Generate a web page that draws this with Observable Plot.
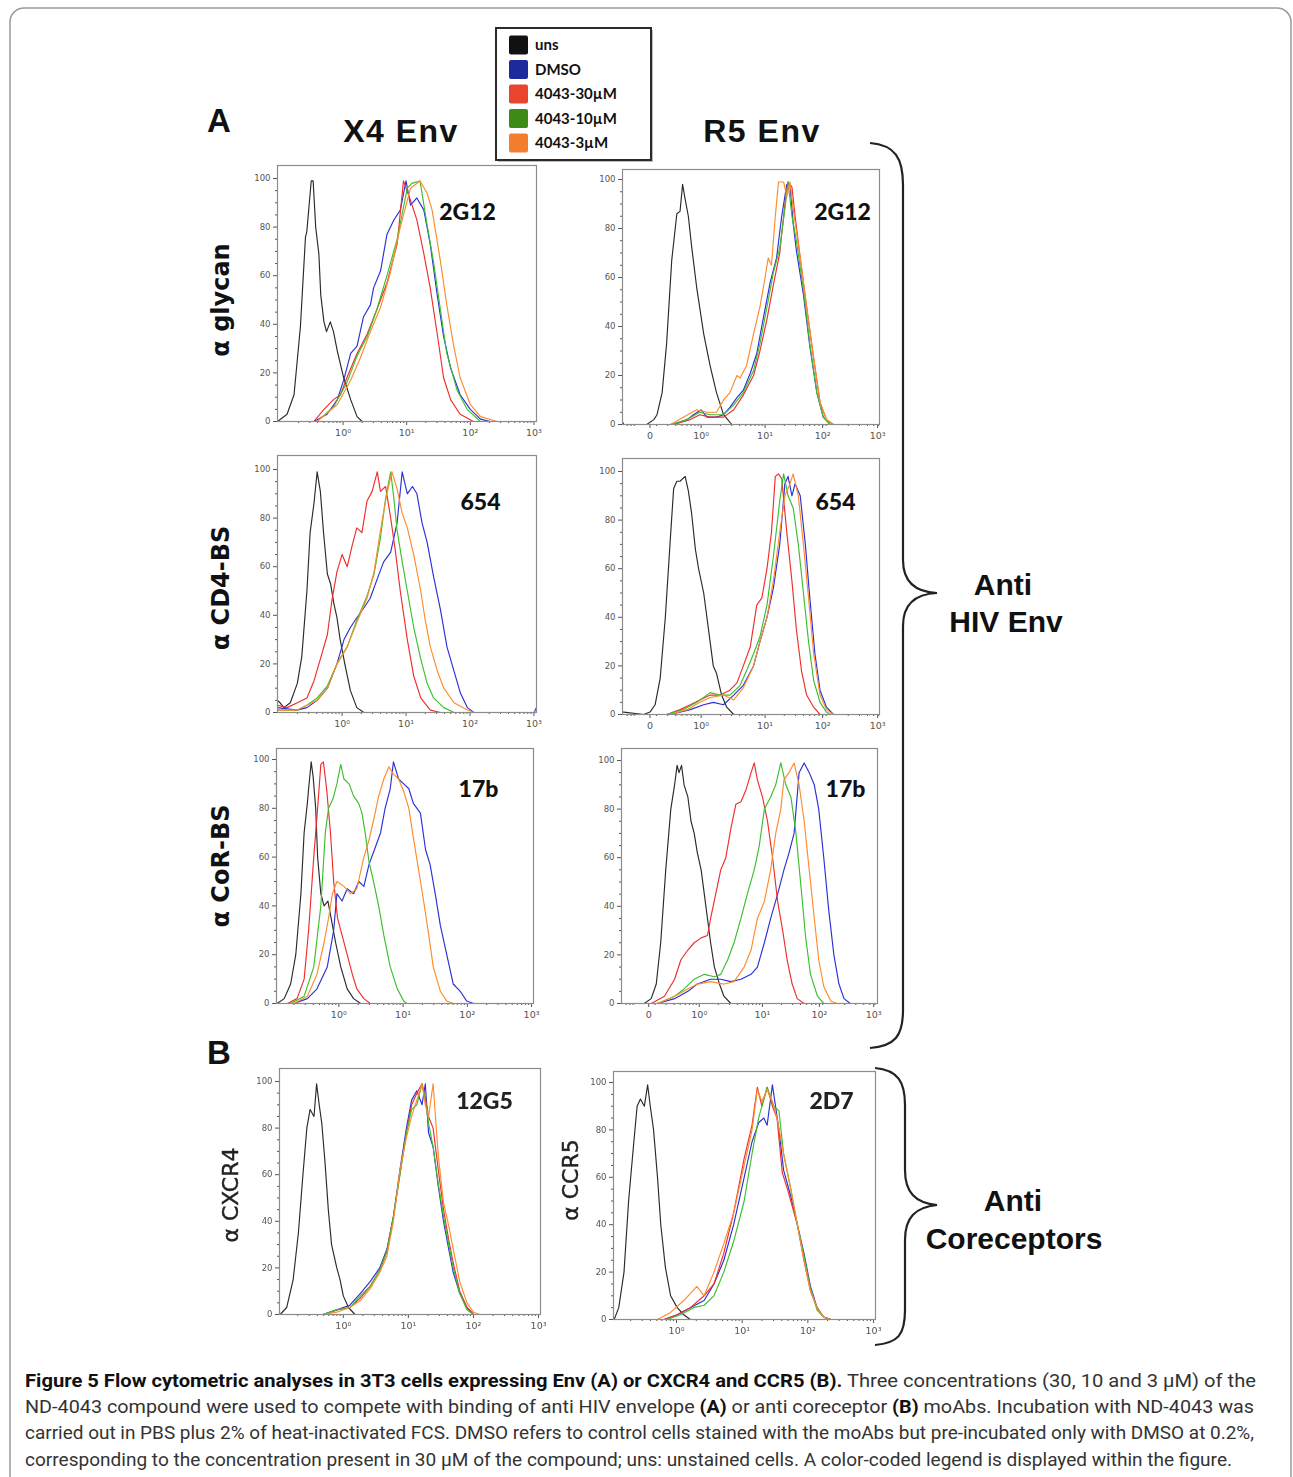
<!DOCTYPE html>
<html>
<head>
<meta charset="utf-8">
<script src="https://cdn.jsdelivr.net/npm/d3@7"></script>
<script src="https://cdn.jsdelivr.net/npm/@observablehq/plot@0.6"></script>
<style>
  html, body { margin: 0; padding: 0; background: #fff; }
  #page { position: relative; width: 1293px; height: 1477px; overflow: hidden; background: #fff; }
  #page > svg, #page > div { position: absolute; }
  .panel svg { overflow: visible; }
</style>
</head>
<body>
<div id="page"></div>
<script>
// ---------------- series / legend ----------------
const seriesNames = ["uns", "DMSO", "4043-30µM", "4043-10µM", "4043-3µM"];
const lineColors = ["#2a2a2a", "#2b30d8", "#ef2d2d", "#3cbf2e", "#ff8b2c"];
const legendColors = ["#111111", "#1c2a9c", "#e8442e", "#3e8a16", "#f27e2e"];

// ---------------- axis ticks ----------------
const yTicks = [0, 20, 40, 60, 80, 100];
const x4TickVals = [0, 1, 2, 3];
const x4TickLabels = ["10⁰", "10¹", "10²", "10³"];
const r5TickVals = [-0.8, 0, 1, 1.9, 2.76];
const r5TickLabels = ["0", "10⁰", "10¹", "10²", "10³"];

// ---------------- A: X4 Env, α glycan (2G12) ----------------
const a1_uns = [[-1.03,0],[-0.88,3],[-0.77,11],[-0.67,39],[-0.59,76],[-0.57,78],[-0.5,99],[-0.47,99],[-0.43,80],[-0.38,69],[-0.35,52],[-0.3,41],[-0.26,37],[-0.2,41],[-0.15,37],[-0.09,29],[0.01,18],[0.12,9],[0.22,2],[0.3,0],[3.04,0]];
const a1_dmso = [[-1.03,0],[-0.46,0],[-0.25,3],[-0.09,9],[0.01,17],[0.12,28],[0.22,31],[0.32,43],[0.43,48],[0.48,55],[0.59,62],[0.69,77],[0.8,83],[0.9,87],[0.99,99],[1.06,89],[1.16,92],[1.27,87],[1.37,73],[1.48,52],[1.58,35],[1.69,22],[1.84,11],[2.0,5],[2.16,1],[2.31,0],[3.04,0]];
const a1_30 = [[-1.03,0],[-0.46,0],[-0.3,5],[-0.15,9],[-0.04,11],[0.06,18],[0.22,28],[0.38,36],[0.53,46],[0.69,57],[0.85,73],[0.95,99],[1.06,91],[1.16,83],[1.27,69],[1.37,55],[1.48,36],[1.58,18],[1.69,9],[1.84,3],[2.05,0],[3.04,0]];
const a1_10 = [[-1.03,0],[-0.41,0],[-0.15,6],[0.06,16],[0.22,27],[0.38,35],[0.53,46],[0.69,60],[0.85,75],[1.01,96],[1.08,98],[1.21,99],[1.32,81],[1.42,66],[1.53,46],[1.63,28],[1.79,13],[1.95,5],[2.16,0],[3.04,0]];
const a1_3 = [[-1.03,0],[-0.41,0],[-0.09,7],[0.12,17],[0.27,26],[0.43,37],[0.59,47],[0.74,61],[0.9,80],[1.06,96],[1.21,99],[1.32,94],[1.4,87],[1.53,66],[1.63,48],[1.74,31],[1.84,18],[2.0,7],[2.16,2],[2.42,0],[3.04,0]];

// ---------------- A: R5 Env, α glycan (2G12) ----------------
const a2_uns = [[-1.23,1],[-1.21,0],[-0.85,0],[-0.74,2],[-0.69,4],[-0.61,13],[-0.54,33],[-0.46,67],[-0.38,86],[-0.33,87],[-0.29,98],[-0.25,92],[-0.2,85],[-0.15,73],[-0.07,56],[0.04,37],[0.14,24],[0.24,13],[0.35,4],[0.48,0],[2.79,0]];
const a2_dmso = [[-1.23,0],[-0.43,0],[-0.22,2],[-0.12,4],[0,6],[0.09,3],[0.24,3],[0.35,4],[0.45,7],[0.56,11],[0.66,14],[0.77,21],[0.87,29],[0.97,43],[1.08,58],[1.18,68],[1.26,85],[1.34,98],[1.39,98],[1.44,82],[1.49,71],[1.6,53],[1.7,32],[1.81,13],[1.91,3],[2.02,0],[2.79,0]];
const a2_30 = [[-1.23,0],[-0.43,0],[-0.17,2],[-0.02,4],[0.14,3],[0.35,3],[0.51,6],[0.66,12],[0.82,20],[0.92,30],[1.03,43],[1.13,57],[1.23,70],[1.31,90],[1.36,99],[1.42,97],[1.47,85],[1.55,68],[1.65,48],[1.76,27],[1.86,9],[1.96,2],[2.07,0],[2.79,0]];
const a2_10 = [[-1.23,0],[-0.48,0],[-0.22,2],[-0.02,5],[0.14,4],[0.35,4],[0.51,8],[0.66,13],[0.82,22],[0.92,33],[1.03,48],[1.13,62],[1.23,72],[1.31,88],[1.36,99],[1.42,85],[1.49,75],[1.6,55],[1.7,33],[1.81,13],[1.91,3],[2.02,0],[2.79,0]];
const a2_3 = [[-1.23,0],[-0.48,0],[-0.28,3],[-0.07,6],[0.09,5],[0.24,5],[0.35,10],[0.45,13],[0.56,20],[0.61,19],[0.71,24],[0.82,37],[0.92,48],[1.0,60],[1.05,68],[1.1,65],[1.16,85],[1.21,99],[1.29,99],[1.34,93],[1.39,99],[1.44,88],[1.55,68],[1.65,48],[1.76,27],[1.86,9],[1.96,2],[2.07,0],[2.79,0]];

// ---------------- A: X4 Env, α CD4-BS (654) ----------------
const a3_uns = [[-1.01,5],[-0.97,4],[-0.91,2],[-0.81,4],[-0.7,12],[-0.63,23],[-0.55,50],[-0.5,74],[-0.44,86],[-0.39,99],[-0.34,91],[-0.29,74],[-0.23,57],[-0.18,53],[-0.13,45],[-0.08,39],[-0.03,30],[0.05,19],[0.13,9],[0.23,2],[0.34,0],[3.04,0]];
const a3_dmso = [[-1.01,2],[-0.7,1],[-0.55,2],[-0.39,5],[-0.23,10],[-0.08,20],[0.03,30],[0.13,35],[0.23,39],[0.34,43],[0.44,47],[0.55,55],[0.65,62],[0.76,66],[0.86,78],[0.94,99],[1.02,90],[1.1,93],[1.17,90],[1.25,78],[1.33,70],[1.43,56],[1.54,42],[1.64,27],[1.75,17],[1.85,8],[1.96,2],[2.06,0],[3.0,0],[3.04,2]];
const a3_30 = [[-1.01,3],[-0.86,2],[-0.7,4],[-0.55,6],[-0.44,13],[-0.34,22],[-0.23,32],[-0.16,46],[-0.08,58],[0,65],[0.08,60],[0.16,69],[0.23,76],[0.31,74],[0.39,87],[0.47,91],[0.55,99],[0.6,91],[0.68,93],[0.76,80],[0.83,67],[0.91,50],[1.02,30],[1.12,15],[1.23,6],[1.38,1],[1.54,0],[3.04,0]];
const a3_10 = [[-1.01,1],[-0.7,1],[-0.55,3],[-0.39,6],[-0.23,11],[-0.08,20],[0.08,27],[0.23,38],[0.39,48],[0.5,57],[0.6,72],[0.68,88],[0.76,99],[0.81,88],[0.86,75],[0.94,62],[1.02,50],[1.12,35],[1.23,22],[1.33,12],[1.43,6],[1.59,2],[1.75,0],[3.04,0]];
const a3_3 = [[-1.01,1],[-0.7,1],[-0.55,3],[-0.39,5],[-0.23,10],[-0.08,20],[0.08,27],[0.23,37],[0.39,47],[0.5,58],[0.6,75],[0.7,90],[0.78,99],[0.86,92],[0.94,82],[1.02,76],[1.12,65],[1.23,50],[1.3,38],[1.38,27],[1.49,17],[1.59,10],[1.75,4],[1.96,1],[2.06,0],[3.0,0],[3.04,1]];

// ---------------- A: R5 Env, α CD4-BS (654) ----------------
const a4_uns = [[-1.23,1],[-1.21,1],[-0.9,0],[-0.8,1],[-0.72,4],[-0.64,15],[-0.56,40],[-0.48,73],[-0.43,93],[-0.38,96],[-0.33,96],[-0.25,98],[-0.2,92],[-0.15,83],[-0.09,68],[-0.04,60],[0.04,50],[0.09,40],[0.14,30],[0.19,20],[0.24,17],[0.32,8],[0.4,3],[0.51,0],[2.79,0]];
const a4_dmso = [[-1.23,0],[-0.48,0],[-0.17,2],[0.04,4],[0.19,5],[0.35,4],[0.51,8],[0.66,12],[0.82,20],[0.92,30],[1.03,40],[1.13,52],[1.23,70],[1.31,95],[1.36,98],[1.42,90],[1.47,95],[1.55,90],[1.63,70],[1.7,48],[1.78,25],[1.86,10],[1.96,3],[2.07,0],[2.79,0]];
const a4_30 = [[-1.23,0],[-0.54,0],[-0.33,2],[-0.17,4],[-0.02,6],[0.14,8],[0.3,8],[0.45,10],[0.56,13],[0.66,20],[0.77,28],[0.87,45],[0.95,48],[1.03,60],[1.1,75],[1.16,98],[1.21,99],[1.26,97],[1.34,75],[1.42,55],[1.49,35],[1.57,18],[1.65,8],[1.76,3],[1.86,0],[2.79,0]];
const a4_10 = [[-1.23,0],[-0.54,0],[-0.28,2],[-0.07,5],[0.14,9],[0.3,8],[0.45,8],[0.61,12],[0.71,18],[0.82,25],[0.92,32],[1.03,45],[1.13,65],[1.23,88],[1.29,99],[1.36,90],[1.44,85],[1.52,70],[1.6,50],[1.68,30],[1.76,14],[1.86,5],[1.96,1],[2.02,0],[2.79,0]];
const a4_3 = [[-1.23,0],[-0.48,0],[-0.22,2],[-0.02,5],[0.14,7],[0.35,8],[0.51,6],[0.66,11],[0.82,20],[0.92,30],[1.03,40],[1.13,55],[1.23,75],[1.31,90],[1.39,95],[1.44,99],[1.52,90],[1.6,70],[1.68,48],[1.76,25],[1.86,8],[1.96,2],[2.07,0],[2.79,0]];

// ---------------- A: X4 Env, α CoR-BS (17b) ----------------
const a5_uns = [[-0.97,0],[-0.96,0],[-0.85,2],[-0.75,8],[-0.67,20],[-0.59,45],[-0.54,70],[-0.49,82],[-0.47,88],[-0.43,99],[-0.4,93],[-0.36,80],[-0.33,60],[-0.28,45],[-0.23,40],[-0.17,42],[-0.12,35],[-0.05,25],[0.03,15],[0.13,6],[0.23,2],[0.34,0],[3.03,0]];
const a5_dmso = [[-0.97,0],[-0.7,0],[-0.49,2],[-0.34,6],[-0.18,15],[-0.08,30],[-0.03,45],[0.05,42],[0.13,47],[0.23,45],[0.31,50],[0.39,48],[0.47,57],[0.54,62],[0.65,70],[0.72,80],[0.8,88],[0.85,99],[0.93,92],[1.01,90],[1.09,88],[1.16,82],[1.27,78],[1.35,63],[1.42,57],[1.5,45],[1.58,32],[1.68,20],[1.78,8],[1.89,5],[1.99,1],[2.1,0],[3.03,0]];
const a5_30 = [[-0.97,0],[-0.8,0],[-0.65,2],[-0.54,10],[-0.47,30],[-0.39,60],[-0.33,80],[-0.28,98],[-0.24,99],[-0.19,88],[-0.13,70],[-0.08,50],[-0.02,35],[0.05,28],[0.13,20],[0.21,12],[0.28,6],[0.39,2],[0.49,0],[3.03,0]];
const a5_10 = [[-0.97,0],[-0.75,0],[-0.54,3],[-0.39,15],[-0.28,40],[-0.21,70],[-0.16,80],[-0.09,84],[-0.03,90],[0.03,98],[0.08,92],[0.16,90],[0.23,85],[0.31,82],[0.36,78],[0.41,70],[0.47,58],[0.54,50],[0.62,40],[0.7,28],[0.8,15],[0.91,6],[1.01,1],[1.06,0],[3.03,0]];
const a5_3 = [[-0.97,0],[-0.7,0],[-0.49,3],[-0.34,12],[-0.23,25],[-0.16,35],[-0.1,45],[-0.03,50],[0.08,48],[0.18,45],[0.28,47],[0.39,60],[0.47,67],[0.54,75],[0.62,85],[0.7,92],[0.78,97],[0.85,94],[0.93,92],[1.01,87],[1.09,80],[1.16,68],[1.24,55],[1.32,42],[1.4,28],[1.47,15],[1.58,5],[1.68,1],[1.78,0],[3.03,0]];

// ---------------- A: R5 Env, α CoR-BS (17b) ----------------
const a6_uns = [[-1.23,0],[-0.87,0],[-0.76,2],[-0.68,8],[-0.61,25],[-0.53,55],[-0.45,80],[-0.39,90],[-0.35,98],[-0.32,95],[-0.28,98],[-0.24,90],[-0.18,85],[-0.13,75],[-0.08,70],[-0.03,62],[0.03,55],[0.08,45],[0.13,35],[0.18,25],[0.24,15],[0.32,8],[0.39,3],[0.5,0],[2.82,0]];
const a6_dmso = [[-1.23,0],[-0.66,0],[-0.39,2],[-0.18,5],[-0.03,8],[0.18,10],[0.34,10],[0.5,9],[0.66,10],[0.82,12],[0.92,15],[1.03,25],[1.13,35],[1.24,45],[1.34,55],[1.42,62],[1.5,70],[1.58,95],[1.66,99],[1.74,95],[1.82,90],[1.89,80],[1.97,60],[2.05,38],[2.13,20],[2.21,8],[2.29,2],[2.39,0],[2.82,0]];
const a6_30 = [[-1.23,0],[-0.76,0],[-0.55,3],[-0.39,10],[-0.29,18],[-0.18,22],[-0.08,25],[0.03,27],[0.13,28],[0.18,35],[0.26,45],[0.34,55],[0.42,60],[0.5,72],[0.58,82],[0.66,83],[0.74,88],[0.82,95],[0.87,99],[0.92,92],[1.0,85],[1.08,75],[1.16,60],[1.24,42],[1.32,30],[1.39,18],[1.47,8],[1.55,2],[1.66,0],[2.82,0]];
const a6_10 = [[-1.23,0],[-0.66,0],[-0.39,3],[-0.24,6],[-0.08,10],[0.08,12],[0.24,11],[0.34,12],[0.45,18],[0.55,25],[0.66,35],[0.76,45],[0.87,55],[0.95,65],[1.03,80],[1.13,85],[1.21,90],[1.29,99],[1.37,90],[1.45,85],[1.53,70],[1.61,48],[1.68,28],[1.76,12],[1.87,3],[1.97,0],[2.82,0]];
const a6_3 = [[-1.23,0],[-0.66,0],[-0.39,3],[-0.18,6],[-0.03,8],[0.18,9],[0.39,8],[0.55,9],[0.71,15],[0.82,22],[0.92,35],[1.03,42],[1.13,55],[1.21,70],[1.29,80],[1.34,92],[1.42,95],[1.5,99],[1.58,90],[1.66,75],[1.74,55],[1.82,35],[1.89,18],[1.97,7],[2.08,1],[2.18,0],[2.82,0]];

// ---------------- B: α CXCR4 (12G5) ----------------
const b1_uns = [[-0.98,0],[-0.97,0],[-0.87,3],[-0.77,15],[-0.69,35],[-0.62,60],[-0.56,80],[-0.51,88],[-0.45,85],[-0.41,99],[-0.37,90],[-0.33,82],[-0.28,65],[-0.23,45],[-0.18,30],[-0.1,20],[-0.05,15],[0,8],[0.08,3],[0.18,0],[3.03,0]];
const b1_dmso = [[-0.98,0],[-0.31,0],[-0.1,2],[0.1,4],[0.26,9],[0.41,14],[0.56,20],[0.67,28],[0.77,42],[0.87,62],[0.97,80],[1.05,92],[1.13,96],[1.21,90],[1.26,99],[1.31,78],[1.38,72],[1.46,55],[1.54,40],[1.62,28],[1.69,18],[1.79,9],[1.9,3],[2.0,0],[3.03,0]];
const b1_30 = [[-0.98,0],[-0.31,0],[-0.1,2],[0.1,3],[0.26,7],[0.41,12],[0.56,19],[0.67,27],[0.77,42],[0.87,60],[0.97,78],[1.05,90],[1.13,95],[1.21,99],[1.26,93],[1.31,85],[1.38,80],[1.46,62],[1.54,45],[1.62,32],[1.69,22],[1.79,10],[1.9,3],[2.0,0],[3.03,0]];
const b1_10 = [[-0.98,0],[-0.31,0],[-0.1,2],[0.1,3],[0.26,8],[0.41,12],[0.56,19],[0.67,27],[0.77,42],[0.87,60],[0.97,78],[1.05,88],[1.13,90],[1.21,99],[1.26,92],[1.31,82],[1.38,72],[1.46,56],[1.54,42],[1.62,30],[1.69,20],[1.79,9],[1.9,2],[2.0,0],[3.03,0]];
const b1_3 = [[-0.98,0],[-0.31,0],[-0.1,1],[0.1,3],[0.26,6],[0.41,11],[0.56,18],[0.67,25],[0.77,40],[0.87,62],[0.97,76],[1.05,85],[1.13,92],[1.21,99],[1.26,90],[1.31,85],[1.38,99],[1.46,68],[1.54,48],[1.62,38],[1.69,28],[1.79,14],[1.9,5],[2.0,1],[2.1,0],[3.03,0]];

// ---------------- B: α CCR5 (2D7) ----------------
const b2_uns = [[-0.96,0],[-0.95,0],[-0.88,5],[-0.8,20],[-0.73,50],[-0.65,75],[-0.6,90],[-0.55,93],[-0.49,90],[-0.44,99],[-0.4,90],[-0.35,80],[-0.29,60],[-0.24,40],[-0.17,22],[-0.09,10],[0.01,5],[0.11,2],[0.21,0],[3.03,0]];
const b2_dmso = [[-0.96,0],[-0.19,0],[0.01,2],[0.21,5],[0.42,8],[0.57,15],[0.72,25],[0.87,40],[1.03,60],[1.15,75],[1.25,83],[1.33,85],[1.38,82],[1.46,99],[1.56,80],[1.63,63],[1.74,52],[1.84,40],[1.94,28],[2.04,14],[2.14,5],[2.24,1],[2.35,0],[3.03,0]];
const b2_30 = [[-0.96,0],[-0.19,0],[0.01,2],[0.21,5],[0.42,10],[0.57,15],[0.72,28],[0.87,45],[1.03,68],[1.15,82],[1.23,98],[1.3,90],[1.38,98],[1.46,90],[1.53,85],[1.61,62],[1.69,55],[1.76,48],[1.84,40],[1.94,25],[2.04,12],[2.14,5],[2.24,1],[2.35,0],[3.03,0]];
const b2_10 = [[-0.96,0],[-0.14,0],[0.06,2],[0.26,5],[0.42,6],[0.57,10],[0.72,20],[0.87,33],[1.03,50],[1.15,70],[1.25,85],[1.38,98],[1.48,90],[1.56,88],[1.63,70],[1.74,55],[1.84,40],[1.94,27],[2.04,13],[2.14,4],[2.24,1],[2.35,0],[3.03,0]];
const b2_3 = [[-0.96,0],[-0.29,0],[-0.09,3],[0.11,8],[0.31,14],[0.42,10],[0.57,20],[0.72,32],[0.87,45],[1.03,65],[1.15,80],[1.23,97],[1.3,92],[1.38,97],[1.46,92],[1.53,85],[1.63,70],[1.74,55],[1.84,40],[1.94,25],[2.04,12],[2.14,5],[2.24,1],[2.35,0],[3.03,0]];

// ---------------- text ----------------
const panelLabels = ["2G12", "2G12", "654", "654", "17b", "17b", "12G5", "2D7"];
const rowLabels = ["α glycan", "α CD4-BS", "α CoR-BS", "α CXCR4", "α CCR5"];
const captionLines = [
  [["Figure 5 Flow cytometric analyses in 3T3 cells expressing Env (A) or CXCR4 and CCR5 (B).", true], [" Three concentrations (30, 10 and 3 μM) of the", false]],
  [["ND-4043 compound were used to compete with binding of anti HIV envelope ", false], ["(A)", true], [" or anti coreceptor ", false], ["(B)", true], [" moAbs. Incubation with ND-4043 was", false]],
  [["carried out in PBS plus 2% of heat-inactivated FCS. DMSO refers to control cells stained with the moAbs but pre-incubated only with DMSO at 0.2%,", false]],
  [["corresponding to the concentration present in 30 μM of the compound; uns: unstained cells. A color-coded legend is displayed within the figure.", false]]
];

// ---------------- layout (page pixel geometry of each frame) ----------------
const layout = [
  {L:277, R:536, T:165, B:421, y100:178, xd:[-1.03,3.04], ax:"x4", s:[a1_uns,a1_dmso,a1_30,a1_10,a1_3], lab:[467,212], blur:false},
  {L:622, R:879, T:169, B:424, y100:179, xd:[-1.23,2.79], ax:"r5", s:[a2_uns,a2_dmso,a2_30,a2_10,a2_3], lab:[842,212], blur:false},
  {L:277, R:536, T:455, B:712, y100:469, xd:[-1.01,3.04], ax:"x4", s:[a3_uns,a3_dmso,a3_30,a3_10,a3_3], lab:[480,502], blur:false},
  {L:622, R:879, T:458, B:714, y100:471, xd:[-1.23,2.79], ax:"r5", s:[a4_uns,a4_dmso,a4_30,a4_10,a4_3], lab:[835,502], blur:false},
  {L:276, R:533, T:748, B:1003, y100:759, xd:[-0.97,3.03], ax:"x4", s:[a5_uns,a5_dmso,a5_30,a5_10,a5_3], lab:[478,789], blur:false},
  {L:621, R:877, T:748, B:1003, y100:760, xd:[-1.23,2.82], ax:"r5", s:[a6_uns,a6_dmso,a6_30,a6_10,a6_3], lab:[845,789], blur:false},
  {L:279, R:540, T:1068, B:1314, y100:1081, xd:[-0.98,3.03], ax:"x4", s:[b1_uns,b1_dmso,b1_30,b1_10,b1_3], lab:[484,1101], blur:true},
  {L:613, R:875, T:1071, B:1319, y100:1082, xd:[-0.96,3.03], ax:"x4", s:[b2_uns,b2_dmso,b2_30,b2_10,b2_3], lab:[831,1101], blur:true}
];

const page = document.getElementById("page");

// ---------------- overlay (labels, braces, legend, caption) ----------------
const ov = d3.select(page).append("svg")
  .attr("width", 1293).attr("height", 1477)
  .style("left", "0px").style("top", "0px");

ov.append("rect").attr("x", 10).attr("y", 8).attr("width", 1281).attr("height", 1520)
  .attr("rx", 14).attr("fill", "none").attr("stroke", "#9a9a9a").attr("stroke-width", 1.5);

const bigFont = "'Liberation Sans', Arial, Helvetica, sans-serif";
function txt(x, y, s, opt = {}) {
  return ov.append("text").attr("x", x).attr("y", y).text(s)
    .attr("font-family", opt.family || bigFont)
    .attr("font-size", opt.size || 30)
    .attr("font-weight", opt.weight || "bold")
    .attr("fill", opt.fill || "#111")
    .attr("text-anchor", opt.anchor || "start");
}
txt(207, 132, "A", {size: 33});
txt(207, 1064, "B", {size: 33});
txt(401, 142, "X4 Env", {size: 32, anchor: "middle"}).attr("letter-spacing", 1.5);
txt(762, 142, "R5 Env", {size: 32, anchor: "middle"}).attr("letter-spacing", 1.5);

// row labels (rotated)
const rowPos = [[229, 300, 24, "bold", "#111"], [229, 588, 24, "bold", "#111"], [229, 866, 24, "bold", "#111"], [238, 1195, 22, "normal", "#222"], [578, 1180, 22, "normal", "#222"]];
rowLabels.forEach((s, i) => {
  const [x, y, fs, fw, fill] = rowPos[i];
  ov.append("text").attr("transform", `translate(${x},${y}) rotate(-90)`)
    .attr("text-anchor", "middle").attr("font-family", "'DejaVu Sans', Verdana, sans-serif")
    .attr("font-size", fs).attr("font-weight", fw).attr("fill", fill).text(s)
    .attr("stroke", i >= 3 ? "#222" : null).attr("stroke-width", i >= 3 ? 0.4 : null)
    .style("filter", i >= 3 ? "blur(0.5px)" : null);
});

// braces
ov.append("path").attr("d", "M 870 143 C 895 145, 903 158, 903 185 L 903 560 C 903 582, 915 592, 937 593 C 915 594, 903 604, 903 626 L 903 1010 C 903 1036, 895 1046, 870 1048")
  .attr("fill", "none").attr("stroke", "#222").attr("stroke-width", 2.2);
ov.append("path").attr("d", "M 875 1068 C 898 1070, 905 1082, 905 1105 L 905 1170 C 905 1192, 915 1203, 937 1205 C 915 1207, 905 1218, 905 1240 L 905 1310 C 905 1335, 898 1343, 875 1345")
  .attr("fill", "none").attr("stroke", "#222").attr("stroke-width", 2.2);
txt(1003, 595, "Anti", {size: 30, anchor: "middle"});
txt(1006, 632, "HIV Env", {size: 30, anchor: "middle"});
txt(1013, 1211, "Anti", {size: 30, anchor: "middle"});
txt(1014, 1249, "Coreceptors", {size: 30, anchor: "middle"});

// legend
const lg = ov.append("g");
lg.append("rect").attr("x", 498).attr("y", 30).attr("width", 155).attr("height", 132).attr("fill", "#bdbdbd");
lg.append("rect").attr("x", 496).attr("y", 28).attr("width", 155).attr("height", 132).attr("fill", "#fff").attr("stroke", "#2a2a2a").attr("stroke-width", 2);
seriesNames.forEach((n, i) => {
  const cy = 45 + i * 24.5;
  lg.append("rect").attr("x", 509).attr("y", cy - 9.5).attr("width", 19).attr("height", 19).attr("rx", 2).attr("fill", legendColors[i]);
  lg.append("text").attr("x", 535).attr("y", cy + 5).text(n)
    .attr("font-family", "Lato, 'Open Sans', sans-serif").attr("font-weight", "bold").attr("font-size", 15).attr("fill", "#111");
});

// caption
const capX = 25, capBase = [1387, 1413, 1439, 1466], capLen = [1231, 1229, 1229, 1207];
captionLines.forEach((parts, i) => {
  const t = ov.append("text").attr("x", capX).attr("y", capBase[i])
    .attr("font-family", "'Liberation Sans Narrow', 'Roboto', 'Liberation Sans', sans-serif")
    .attr("font-size", 19).attr("fill", "#333")
    .attr("textLength", capLen[i]).attr("lengthAdjust", "spacingAndGlyphs");
  parts.forEach(([s, b]) => {
    t.append("tspan").text(s).attr("font-weight", b ? "bold" : "normal").attr("fill", b ? "#111" : "#333");
  });
});

// ---------------- panels ----------------
const mL = 42, mR = 4, mT = 4, mB = 26;
function minorTicks(dom) {
  const out = [];
  for (let d = -2; d <= 3; d++) for (let k = 2; k <= 9; k++) {
    const v = d + Math.log10(k);
    if (v > dom[0] + 0.01 && v < dom[1] - 0.01) out.push(v);
  }
  return out;
}
const yMinor = d3.range(5, 101, 5).filter(v => v % 20 !== 0);

layout.forEach((p, idx) => {
  const data = [];
  p.s.forEach((arr, si) => arr.forEach(([x, y]) => data.push({x, y, s: seriesNames[si]})));
  const tv = p.ax === "x4" ? x4TickVals : r5TickVals;
  const tl = p.ax === "x4" ? x4TickLabels : r5TickLabels;
  const fmt = new Map(tv.map((v, i) => [v, tl[i]]));
  const ymax = 100 * (p.B - p.T) / (p.B - p.y100);
  const width = (p.R - p.L) + mL + mR;
  const height = (p.B - p.T) + mT + mB;
  const chart = Plot.plot({
    width, height, marginLeft: mL, marginRight: mR, marginTop: mT, marginBottom: mB,
    x: {domain: p.xd},
    y: {domain: [0, ymax]},
    color: {domain: seriesNames, range: lineColors},
    style: {fontFamily: "'DejaVu Sans', 'Liberation Sans', sans-serif", fontSize: "8.5px", color: "#555", background: "transparent"},
    marks: [
      Plot.axisY({ticks: yTicks, tickSize: 4, tickPadding: 3, label: null, fontSize: 8.5}),
      Plot.axisY({ticks: yMinor, tickSize: 2, tickFormat: () => "", label: null}),
      Plot.axisX({ticks: tv, tickSize: 4, tickPadding: 4, tickFormat: d => fmt.get(d) ?? "", label: null, fontSize: 9.5}),
      Plot.axisX({ticks: minorTicks(p.xd), tickSize: 2, tickFormat: () => "", label: null}),
      Plot.line(data, {x: "x", y: "y", z: "s", stroke: "s", strokeWidth: 1.15}),
      Plot.frame({stroke: "#8c8c8c", strokeWidth: 1.2}),
      Plot.text([panelLabels[idx]], {
        frameAnchor: "top-left",
        dx: p.lab[0] - p.L, dy: p.lab[1] - p.T,
        text: d => d, fontSize: 23, fontWeight: 900, fill: p.blur ? "#222" : "#111",
        textAnchor: "middle", lineAnchor: "middle",
        fontFamily: "Lato, 'Open Sans', sans-serif"
      })
    ]
  });
  const div = document.createElement("div");
  div.className = "panel";
  div.style.left = (p.L - mL) + "px";
  div.style.top = (p.T - mT) + "px";
  if (p.blur) div.style.filter = "blur(0.6px)";
  div.appendChild(chart);
  page.appendChild(div);
});
</script>
</body>
</html>
